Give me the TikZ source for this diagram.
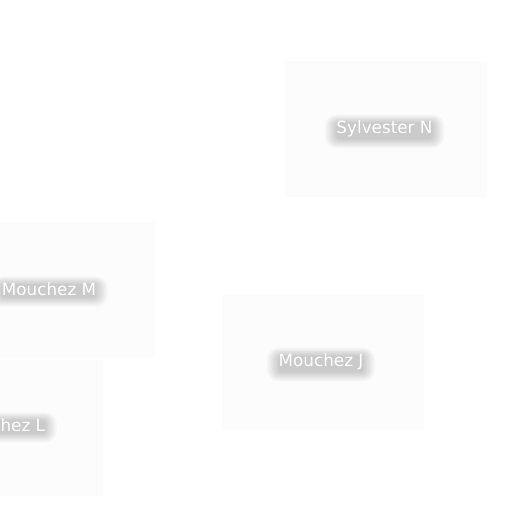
\documentclass[tikz,border=0pt]{standalone}
\usepackage{fontspec}
\setmainfont{DejaVu Sans}
\usetikzlibrary{positioning, backgrounds}

\begin{document}
\begin{tikzpicture}
        [x=1pt, y=-1pt,
         card/.style={rectangle, fill=black!1, minimum width=202pt, minimum height=136pt, inner sep=0pt},
         nametext/.style={text=white, font=\fontsize{16.8}{18}\selectfont, inner sep=0pt},
         smudge/.style={fill=black, opacity=0.02}]
        \useasboundingbox (0,0) rectangle (512,512);

        \coordinate (sylvesterN) at (386,129);
        \coordinate (mouchezM) at (54,290);
        \coordinate (mouchezJ) at (323,362);
        \coordinate (mouchezL) at (2,428);

        \node[nametext] (sylvesterNtext) at ([xshift=-1.5pt]sylvesterN) {Sylvester N};
        \node[nametext] (mouchezMtext) at ([xshift=-5pt, yshift=1pt]mouchezM) {Mouchez M};
        \node[nametext] (mouchezJtext) at ([xshift=-2pt]mouchezJ) {Mouchez J};
        \node[nametext] (mouchezLtext) at ([xshift=-1.5pt, yshift=3pt]mouchezL) {Mouchez L};

        \begin{scope}[on background layer]
          \foreach \n in {sylvesterN, mouchezM, mouchezJ, mouchezL}
            \node[card] at (\n) {};
          % soft grey shadow behind the white names
          \foreach \n in {sylvesterNtext, mouchezMtext, mouchezJtext, mouchezLtext}
            \foreach \k in {0,...,9}
              \fill[smudge, rounded corners=\k pt+3pt]
                ([shift={(-1.3*\k pt, -1.0*\k pt-2pt)}]\n.south west) rectangle ([shift={(1.3*\k pt, 0.9*\k pt-2pt)}]\n.north east);
        \end{scope}
    \end{tikzpicture}
\end{document}
